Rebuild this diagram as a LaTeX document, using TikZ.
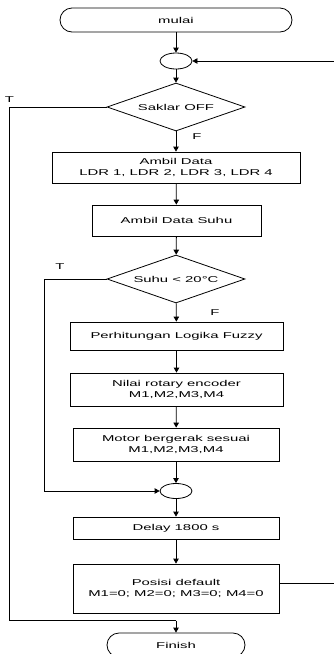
\documentclass[tikz,border=0pt]{standalone}
\usepackage{fontspec}
\setmainfont{Liberation Sans}[FakeStretch=1.75]
\usetikzlibrary{arrows.meta,shapes.geometric}
\tikzset{
  base/.style={draw=black,line width=0.8pt,font=\fontsize{8.5}{11.5}\selectfont,align=center,inner sep=0pt},
  proc/.style={base,rectangle},
  term/.style={base,rectangle,rounded corners=12pt},
  conn/.style={base,ellipse,minimum width=32pt,minimum height=16pt},
  dec/.style={base,diamond,minimum width=138pt,minimum height=48pt,aspect=2.875},
  arr/.style={line width=0.8pt,-{Triangle[length=5pt,width=5.5pt]}},
  ln/.style={line width=0.8pt},
  lbl/.style={font=\fontsize{8.5}{10}\selectfont,inner sep=0pt}
}
\begin{document}
\begin{tikzpicture}[x=1pt,y=-1pt]
\useasboundingbox (0,0) rectangle (334,654);
\node[term,minimum width=232pt,minimum height=24pt] (mulai) at (176,20) {mulai};
\node[conn] (c1) at (176,61) {};
\node[dec] (d1) at (176,107) {Saklar OFF};
\node[proc,minimum width=248pt,minimum height=31pt] (ldr) at (176,167.5) {Ambil Data\\LDR 1, LDR 2, LDR 3, LDR 4};
\node[proc,minimum width=169pt,minimum height=31pt] (suhu) at (176.5,220.5) {Ambil Data Suhu};
\node[dec] (d2) at (176,279) {Suhu < 20°C};
\node[proc,minimum width=213pt,minimum height=28pt] (fuzzy) at (176.5,336) {Perhitungan Logika Fuzzy};
\node[proc,minimum width=213pt,minimum height=33pt] (nilai) at (176.5,389.5) {Nilai rotary encoder\\M1,M2,M3,M4};
\node[proc,minimum width=206pt,minimum height=33pt] (motor) at (176,444.5) {Motor bergerak sesuai\\M1,M2,M3,M4};
\node[conn,minimum height=15pt] (c2) at (176,491) {};
\node[proc,minimum width=206pt,minimum height=22pt] (delay) at (176,528) {Delay 1800 s};
\node[proc,minimum width=206pt,minimum height=49pt] (posisi) at (176,588.5) {Posisi default\\M1=0; M2=0; M3=0; M4=0};
\node[term,minimum width=138pt,minimum height=24pt] (finish) at (176,645) {Finish};
\coordinate (join) at (176,620.5);
\node[lbl] (t1) at (9.5,100) {T};
\node[lbl] (f1) at (197,137) {F};
\node[lbl] (t2) at (60,267) {T};
\node[lbl] (f2) at (215,313) {F};
\draw[arr] (mulai) -- (c1);
\draw[arr] (c1) -- (d1);
\draw[arr] (d1) -- (ldr);
\draw[arr] (ldr) -- (suhu);
\draw[arr] (suhu) -- (d2);
\draw[arr] (d2) -- (fuzzy);
\draw[arr] (fuzzy) -- (nilai);
\draw[arr] (nilai) -- (motor);
\draw[arr] (motor) -- (c2);
\draw[arr] (c2) -- (delay);
\draw[arr] (delay) -- (posisi);
\draw[arr] ([yshift=5.5pt]posisi.east) -- ++(70,0) |- (c1.east);
\draw[ln] (d1.west) -| (9,620.5) -- (join);
\draw[arr] (join) -- (finish);
\draw[arr] (d2.west) -| (44,491) -- (c2.west);
\end{tikzpicture}
\end{document}
